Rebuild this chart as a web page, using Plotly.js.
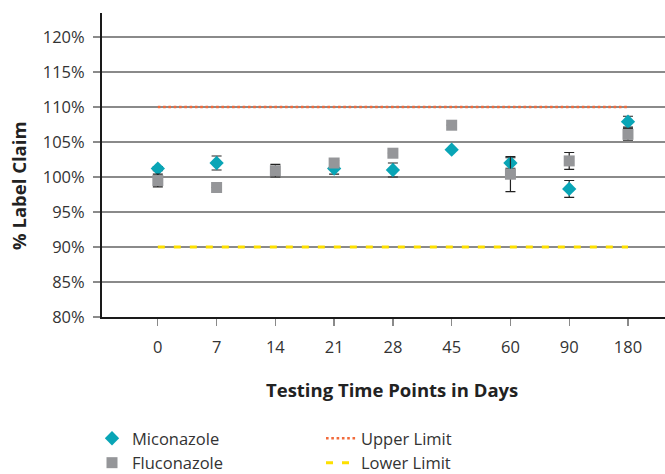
<!DOCTYPE html>
<html>
<head>
<meta charset="utf-8">
<script src="https://cdn.plot.ly/plotly-3.0.1.min.js"></script>
<style>html,body{margin:0;padding:0;background:#fff;}#chart{width:665px;height:474px;}</style>
</head>
<body>
<div id="chart"></div>
<script>
// Data
const days = ['0', '7', '14', '21', '28', '45', '60', '90', '180'];
const miconazole = [101.2, 102.0, null, 101.2, 101.0, 103.9, 102.0, 98.3, 107.9];
const miconazoleErr = [0.3, 1.0, 0, 0.8, 1.0, 0, 0.75, 1.2, 0.78];
const fluconazole = [99.5, 98.5, 100.9, 102.0, 103.4, 107.4, 100.4, 102.3, 106.1];
const fluconazoleErr = [0.9, 0, 0.9, 0.3, 0, 0, 2.5, 1.2, 0.85];
const upperLimit = [110, 110, 110, 110, 110, 110, 110, 110, 110];
const lowerLimit = [90, 90, 90, 90, 90, 90, 90, 90, 90];
const xTitle = 'Testing Time Points in Days';
const yTitle = '% Label Claim';

const FONT = '"Open Sans", "DejaVu Sans", sans-serif';
const TXT = '#333333';

// plot area in pixels (for converting legend / title positions)
const PL = 102, PR = 665, PT = 13, PB = 317;
const px2x = p => (p - PL) / (PR - PL);
const px2y = p => (PB - p) / (PB - PT);

const traces = [
  {
    x: days, y: upperLimit, type: 'scatter', mode: 'lines', name: 'Upper Limit',
    line: {color: '#f26a3b', width: 2.4, dash: '2.6px,2.7px'}, legend: 'legend2', legendrank: 1
  },
  {
    x: days, y: lowerLimit, type: 'scatter', mode: 'lines', name: 'Lower Limit',
    line: {color: '#fde000', width: 3, dash: '7px,9px'}, legend: 'legend2', legendrank: 2
  },
  {
    x: days, y: miconazole, type: 'scatter', mode: 'markers', name: 'Miconazole',
    marker: {symbol: 'diamond', size: 11, color: '#09a5b6'},
    error_y: {type: 'data', array: miconazoleErr, visible: true, color: '#222222', thickness: 1.2, width: 5},
    legend: 'legend', legendrank: 1
  },
  {
    x: days, y: fluconazole, type: 'scatter', mode: 'markers', name: 'Fluconazole',
    marker: {symbol: 'square', size: 11, color: '#959699'},
    error_y: {type: 'data', array: fluconazoleErr, visible: true, color: '#222222', thickness: 1.2, width: 5},
    legend: 'legend', legendrank: 2
  }
];

const layout = {
  width: 665, height: 474,
  margin: {l: PL, r: 665 - PR, t: PT, b: 474 - PB, autoexpand: false},
  paper_bgcolor: '#ffffff', plot_bgcolor: '#ffffff',
  font: {family: FONT, color: TXT, size: 16.5},
  showlegend: true,
  xaxis: {
    type: 'category',
    range: [-0.95, 8.63],
    showgrid: false, zeroline: false,
    showline: true, linecolor: '#1a1a1a', linewidth: 2,
    ticks: 'outside', ticklen: 7, tickcolor: '#8a8a8a', tickwidth: 1.3,
    tickfont: {family: FONT, size: 16.5, color: TXT},
    ticklabelstandoff: 7,
    automargin: false
  },
  yaxis: {
    range: [80, 123.43],
    tickvals: [80, 85, 90, 95, 100, 105, 110, 115, 120],
    ticktext: ['80%', '85%', '90%', '95%', '100%', '105%', '110%', '115%', '120%'],
    showgrid: true, gridcolor: '#8a8a8a', gridwidth: 1.3,
    zeroline: false,
    showline: true, linecolor: '#1a1a1a', linewidth: 2,
    ticks: 'outside', ticklen: 7, tickcolor: '#8a8a8a', tickwidth: 1.3,
    tickfont: {family: FONT, size: 16.5, color: TXT},
    ticklabelstandoff: 5,
    automargin: false
  },
  annotations: [
    {text: '<b>' + xTitle + '</b>', xref: 'paper', yref: 'paper', x: px2x(392), y: px2y(389),
     xanchor: 'center', yanchor: 'middle', showarrow: false,
     font: {family: FONT, size: 18.5, color: '#222'}},
    {text: '<b>' + yTitle + '</b>', xref: 'paper', yref: 'paper', x: px2x(18), y: px2y(186),
     xanchor: 'center', yanchor: 'middle', showarrow: false, textangle: -90,
     font: {family: FONT, size: 18.5, color: '#222'}}
  ],
  shapes: [
    {type: 'line', layer: 'below', xref: 'paper', x0: 0, x1: 1, yref: 'y',
     y0: lowerLimit[0], y1: lowerLimit[0], line: {color: '#222222', width: 1.3}}
  ],
  legend: {
    x: px2x(92), y: px2y(421),
    xanchor: 'left', yanchor: 'top', orientation: 'v',
    font: {family: FONT, size: 16.5, color: TXT}, bgcolor: 'rgba(0,0,0,0)', tracegroupgap: 0
  },
  legend2: {
    x: px2x(321), y: px2y(421),
    xanchor: 'left', yanchor: 'top', orientation: 'v',
    font: {family: FONT, size: 16.5, color: TXT}, bgcolor: 'rgba(0,0,0,0)', tracegroupgap: 0
  }
};

Plotly.newPlot('chart', traces, layout, {displayModeBar: false, staticPlot: true});
</script>
</body>
</html>
